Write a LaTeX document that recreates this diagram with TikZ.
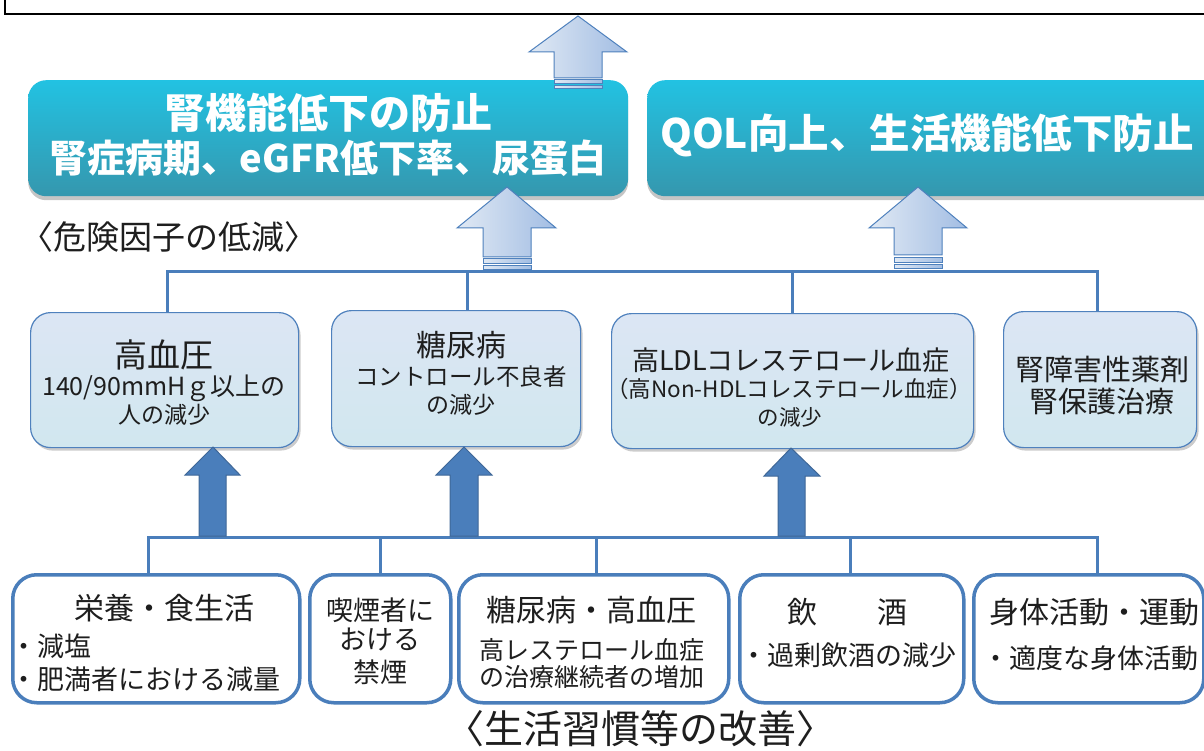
\documentclass[tikz,border=0pt]{standalone}
\usepackage{fontspec}
\setmainfont{Noto Sans CJK JP}
\usetikzlibrary{shadows}
\definecolor{tealtop}{HTML}{22C2E2}
\definecolor{tealbot}{HTML}{3597AE}
\definecolor{lbtop}{HTML}{DCE6F4}
\definecolor{lbbot}{HTML}{D1E7EF}
\definecolor{bord}{HTML}{4F81BD}
\definecolor{lineblue}{HTML}{4A7EBB}
\definecolor{arrL}{HTML}{E0E9F4}
\definecolor{arrR}{HTML}{A2BDE3}
\definecolor{txtc}{HTML}{1E1E1E}
\newcommand\fsz[1]{\fontsize{#1}{#1}\selectfont}
\begin{document}
\begin{tikzpicture}[x=1pt,y=-1pt,
  tealbox/.style={rounded corners=18pt, top color=tealtop, bottom color=tealbot, draw=none,
     drop shadow={shadow xshift=0pt, shadow yshift=-4pt, opacity=0.45}, inner sep=0pt},
  midbox/.style={rounded corners=20pt, top color=lbtop, bottom color=lbbot, draw=bord, line width=1.2pt,
     drop shadow={shadow xshift=2pt, shadow yshift=-3pt, opacity=0.4}, inner sep=0pt},
  lowbox/.style={rounded corners=24pt, fill=white, draw=lineblue, line width=3.5pt, inner sep=0pt},
  conn/.style={draw=lineblue, line width=3pt},
  lightarrow/.style={draw=bord, line width=1pt, left color=arrL, right color=arrR},
  darkarrow/.style={fill=lineblue, draw=bord!80!black, line width=1pt},
  wt/.style={text=white, inner sep=0pt, font=\bfseries\fsz{41}},
  bt/.style={text=txtc, inner sep=0pt},
]
\useasboundingbox (0,0) rectangle (1204,751);
\fill[white] (0,0) rectangle (1204,751);

% top frame (cut off)
\node[draw=black, line width=1.5pt, fill=white, minimum width=1230pt, minimum height=40pt,
      anchor=south west, inner sep=0pt] (topbox) at (4,15) {};

% teal result boxes
\node[tealbox, minimum width=600pt, minimum height=116pt, anchor=north west] (kid) at (28,80) {};
\node[tealbox, minimum width=580pt, minimum height=116pt, anchor=north west] (qol) at (647,80) {};
\node[wt] (kidA) at (328,113) {腎機能低下の防止};
\node[wt, font=\bfseries\fsz{38}] (kidB) at (328,158) {腎症病期、eGFR低下率、尿蛋白};
\node[wt, font=\bfseries\fsz{40.5}] (qolA) at (927,135) {QOL向上、生活機能低下防止};

% label
\node[bt, font=\fsz{33}, anchor=west] (lbl1) at (20,237) {〈危険因子の低減〉};

% middle boxes
\node[midbox, minimum width=268pt, minimum height=135pt, anchor=north west] (m1) at (30,312) {};
\node[midbox, minimum width=249pt, minimum height=136pt, anchor=north west] (m2) at (331,310) {};
\node[midbox, minimum width=362pt, minimum height=135pt, anchor=north west] (m3) at (611,313) {};
\node[midbox, minimum width=193pt, minimum height=136pt, anchor=north west] (m4) at (1003,311) {};

\node[bt, font=\fsz{33}] (m1a) at (164,355) {高血圧};
\node[bt, font=\fsz{25}] (m1b) at (164,388) {140/90mmHｇ以上の};
\node[bt, font=\fsz{23}] (m1c) at (164,415) {人の減少};

\node[bt, font=\fsz{30}] (m2a) at (461,345) {糖尿病};
\node[bt, font=\fsz{23.5}] (m2b) at (461,377) {コントロール不良者};
\node[bt, font=\fsz{23}] (m2c) at (461,405) {の減少};

\node[bt, font=\fsz{27}] (m3a) at (791,360) {高LDLコレステロール血症};
\node[bt, font=\fsz{22.5}] (m3b) at (789,389) {（高Non-HDLコレステロール血症）};
\node[bt, font=\fsz{21.5}] (m3c) at (790,417) {の減少};

\node[bt, font=\fsz{29}] (m4a) at (1102,370) {腎障害性薬剤};
\node[bt, font=\fsz{29}] (m4b) at (1102,401) {腎保護治療};

% upper connector
\coordinate (u1) at (167,272);
\coordinate (u2) at (467,272);
\coordinate (u3) at (792,272);
\coordinate (u4) at (1097,272);
\draw[conn] (u1 |- m1.north) -- (u1) -- (u4) -- (u4 |- m4.north);
\draw[conn] (u2) -- (u2 |- m2.north);
\draw[conn] (u3) -- (u3 |- m3.north);

% lower boxes
\node[lowbox, minimum width=287pt, minimum height=128pt, anchor=north west] (b1) at (11,573) {};
\node[lowbox, minimum width=141pt, minimum height=128pt, anchor=north west] (b2) at (308,573) {};
\node[lowbox, minimum width=270pt, minimum height=128pt, anchor=north west] (b3) at (457,573) {};
\node[lowbox, minimum width=224pt, minimum height=128pt, anchor=north west] (b4) at (738,573) {};
\node[lowbox, minimum width=230pt, minimum height=128pt, anchor=north west] (b5) at (972,573) {};

\node[bt, font=\fsz{30}] (b1a) at (164,608) {栄養・食生活};
\node[bt, font=\fsz{27}, anchor=west] (b1b) at (10,646) {・減塩};
\node[bt, font=\fsz{27}, anchor=west] (b1c) at (10,679) {・肥満者における減量};

\node[bt, font=\fsz{27}] (b2a) at (380,610) {喫煙者に};
\node[bt, font=\fsz{27}] (b2b) at (380,640) {おける};
\node[bt, font=\fsz{27}] (b2c) at (380,672) {禁煙};

\node[bt, font=\fsz{30}] (b3a) at (591,610) {糖尿病・高血圧};
\node[bt, font=\fsz{25}] (b3b) at (592,650) {高レステロール血症};
\node[bt, font=\fsz{25}] (b3c) at (592,677) {の治療継続者の増加};

\node[bt, font=\fsz{30}] (b4a) at (847,612) {飲　　酒};
\node[bt, font=\fsz{27}] (b4b) at (848,655) {・過剰飲酒の減少};

\node[bt, font=\fsz{30}] (b5a) at (1094,612) {身体活動・運動};
\node[bt, font=\fsz{27}] (b5b) at (1090,658) {・適度な身体活動};

% lower connector
\coordinate (l1) at (148,537);
\coordinate (l2) at (380,537);
\coordinate (l3) at (596,537);
\coordinate (l4) at (850,537);
\coordinate (l5) at (1097,537);
\draw[conn] (l1 |- b1.north) -- (l1) -- (l5) -- (l5 |- b5.north);
\draw[conn] (l2) -- (l2 |- b2.north);
\draw[conn] (l3) -- (l3 |- b3.north);
\draw[conn] (l4) -- (l4 |- b4.north);

% dark arrows (lifestyle -> risk factors)
\draw[darkarrow] (213,447) -- (240,475) -- (226,475) -- (226,536) -- (199,536) -- (199,475) -- (185,475) -- cycle;
\draw[darkarrow] (464,447) -- (492,475) -- (478,475) -- (478,536) -- (450,536) -- (450,475) -- (436,475) -- cycle;
\draw[darkarrow] (791,448) -- (820,476) -- (805,476) -- (805,536) -- (778,536) -- (778,476) -- (764,476) -- cycle;

% light arrows
\draw[lightarrow] (578,16) -- (627,52) -- (602,52) -- (602,78) -- (554,78) -- (554,52) -- (529,52) -- cycle;
\draw[lightarrow] (554,80) rectangle (602,84);
\draw[lightarrow] (554,86) rectangle (602,89);

\draw[lightarrow] (507,187) -- (556,228) -- (531,228) -- (531,257) -- (483,257) -- (483,228) -- (457,228) -- cycle;
\draw[lightarrow] (483,259) rectangle (531,264);
\draw[lightarrow] (483,266) rectangle (531,270);

\draw[lightarrow] (918,187) -- (967,228) -- (942,228) -- (942,255) -- (894,255) -- (894,228) -- (869,228) -- cycle;
\draw[lightarrow] (894,258) rectangle (942,263);
\draw[lightarrow] (894,265) rectangle (942,269);

% bottom label
\node[bt, font=\fsz{39}] (lbl2) at (640,729) {〈生活習慣等の改善〉};
\end{tikzpicture}
\end{document}
